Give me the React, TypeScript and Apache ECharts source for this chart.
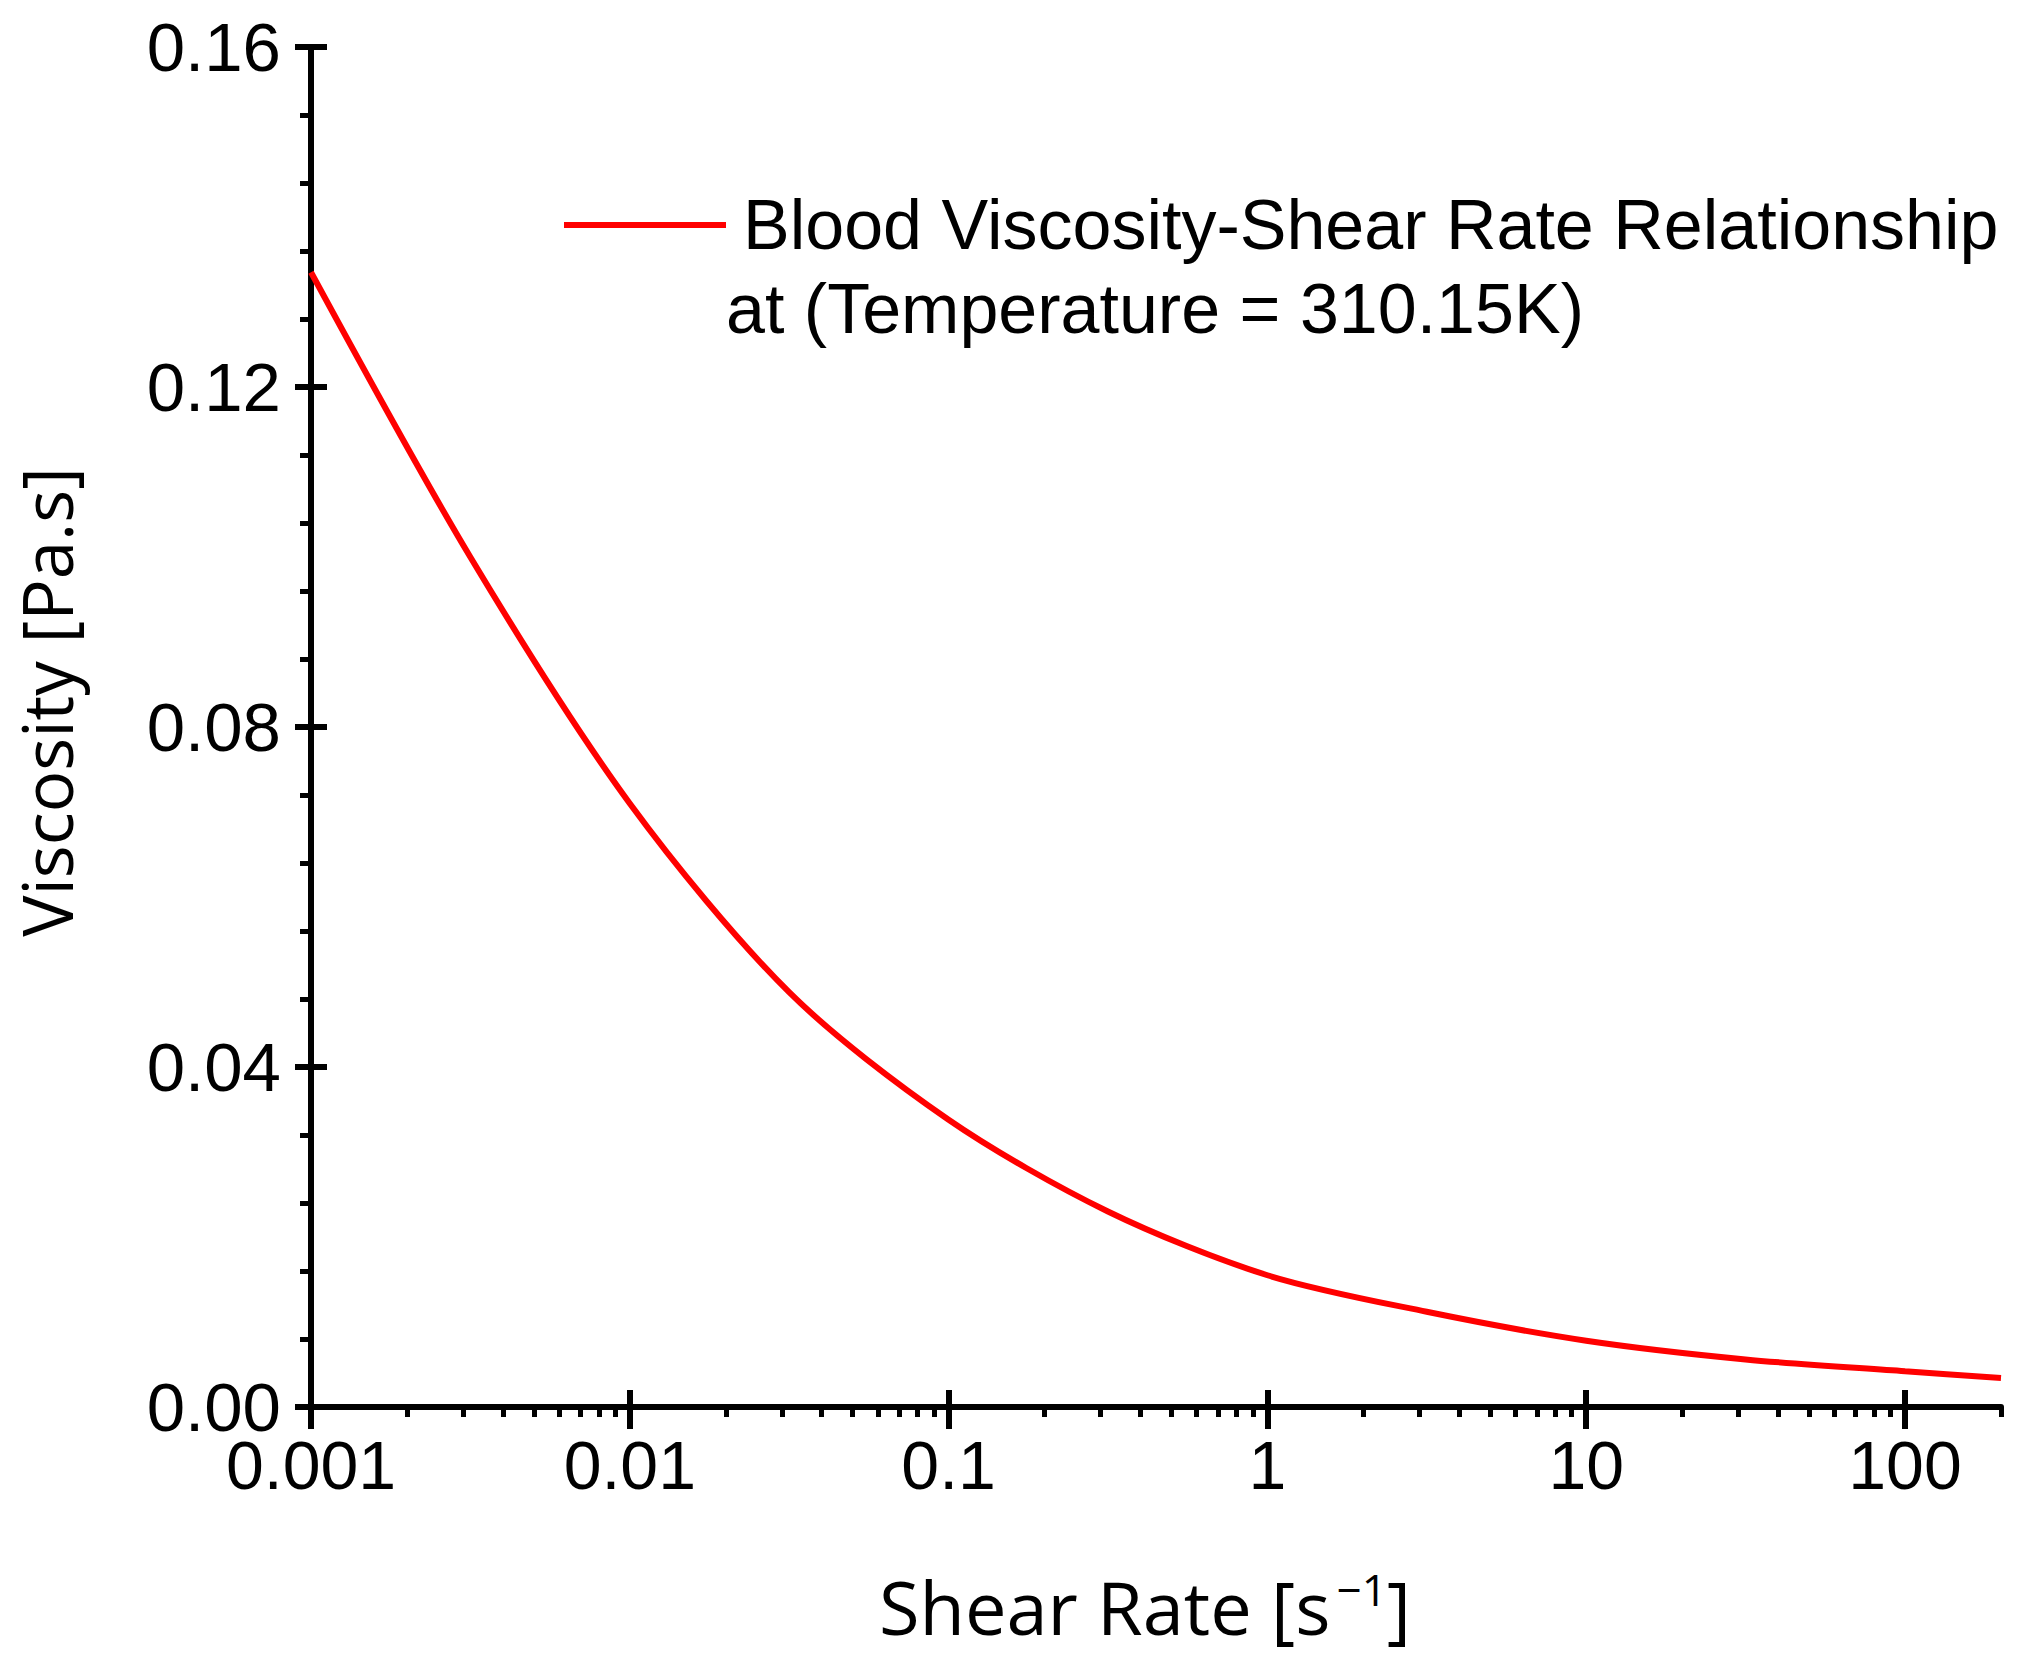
import { useEffect, useRef } from 'react';
import * as echarts from 'echarts';

// values (half-decade steps)
const shearRate = [
  0.001, 0.00316, 0.01, 0.0316, 0.1, 0.316, 1, 3.16, 10, 31.6, 100, 200,
];
const viscosity = [
  0.1335, 0.1, 0.071, 0.0488, 0.0338, 0.023, 0.0155, 0.0112, 0.0078, 0.0056,
  0.0042, 0.0034,
];
const xMajorTicks = [0.001, 0.01, 0.1, 1, 10, 100];
const xMinorMantissa = [2, 3, 4, 5, 6, 7, 8, 9];
const xMin = 0.001;
const xMax = 200;
const yTicks = [0, 0.04, 0.08, 0.12, 0.16];

const legendName = 'Blood Viscosity-Shear Rate Relationship';
const legendLine2 = 'at (Temperature = 310.15K)';
const xTitle = 'Shear Rate [s{sup|−1}]';
const yTitle = 'Viscosity [Pa.s]';

const App: React.FC = () => {
  const chartRef = useRef<HTMLDivElement>(null);

  useEffect(() => {
    if (!chartRef.current) return;
    document.body.style.margin = '0';
    const chart = echarts.init(chartRef.current, null, { renderer: 'svg' });

    const xMinorTicks = xMajorTicks
      .flatMap((d) => xMinorMantissa.map((m) => +(m * d).toPrecision(3)))
      .filter((v) => v <= xMax);

    const numFont = 'Liberation Sans, Arial, sans-serif';
    const titleFont = 'Open Sans, sans-serif';
    const black = '#000';
    const lw = 6;

    const yBase = {
      type: 'value' as const,
      min: yTicks[0],
      max: yTicks[yTicks.length - 1],
      interval: yTicks[1] - yTicks[0],
      position: 'left' as const,
      splitLine: { show: false },
    };
    const xBase = {
      type: 'log' as const,
      logBase: 10,
      min: xMin,
      max: xMax,
      position: 'bottom' as const,
      splitLine: { show: false },
    };

    chart.setOption({
      animation: false,
      backgroundColor: '#fff',
      grid: { left: 311, top: 47, right: 32, bottom: 258, containLabel: false },
      legend: {
        left: 564,
        top: 190,
        padding: 0,
        icon: 'rect',
        itemWidth: 162,
        itemHeight: 6,
        data: [legendName],
        textStyle: {
          fontFamily: numFont,
          fontSize: 70,
          color: black,
          padding: [0, 0, 0, 12],
        },
      },
      graphic: [
        {
          type: 'text',
          left: 726,
          top: 274,
          style: {
            text: legendLine2,
            fontFamily: numFont,
            fontSize: 70,
            fill: black,
          },
        },
      ],
      xAxis: [
        {
          ...xBase,
          name: xTitle,
          nameLocation: 'middle',
          nameGap: 160,
          nameTextStyle: {
            fontFamily: titleFont,
            fontSize: 74,
            color: black,
            padding: [0, 22, 0, 0],
            rich: {
              sup: {
                fontFamily: titleFont,
                fontSize: 44,
                color: black,
                verticalAlign: 'top',
                padding: [0, 0, 34, 6],
              },
            },
          },
          axisLine: { show: true, lineStyle: { color: black, width: lw } },
          axisTick: {
            show: true,
            length: 22,
            lineStyle: { color: black, width: lw },
            customValues: xMajorTicks,
          },
          axisLabel: {
            customValues: xMajorTicks,
            margin: 24,
            fontFamily: numFont,
            fontSize: 68,
            color: black,
            formatter: (v: number) => String(v),
          },
        },
        {
          ...xBase,
          axisLine: { show: false },
          axisTick: {
            show: true,
            inside: true,
            length: 17,
            lineStyle: { color: black, width: lw },
            customValues: xMajorTicks,
          },
          axisLabel: { show: false },
        },
        {
          ...xBase,
          axisLine: { show: false },
          axisTick: {
            show: true,
            length: 10,
            lineStyle: { color: black, width: 5 },
            customValues: xMinorTicks,
          },
          axisLabel: { show: false },
        },
      ],
      yAxis: [
        {
          ...yBase,
          name: yTitle,
          nameLocation: 'middle',
          nameGap: 231,
          nameRotate: 90,
          nameTextStyle: {
            fontFamily: titleFont,
            fontSize: 69,
            color: black,
            padding: [0, 0, 0, 50],
          },
          axisLine: { show: true, lineStyle: { color: black, width: lw } },
          axisTick: { show: true, length: 16, lineStyle: { color: black, width: lw } },
          minorTick: {
            show: true,
            splitNumber: 5,
            length: 11,
            lineStyle: { color: black, width: 5 },
          },
          axisLabel: {
            margin: 30,
            fontFamily: numFont,
            fontSize: 69,
            color: black,
            formatter: (v: number) => v.toFixed(2),
          },
        },
        {
          ...yBase,
          axisLine: { show: false },
          axisTick: {
            show: true,
            inside: true,
            length: 16,
            lineStyle: { color: black, width: lw },
          },
          axisLabel: { show: false },
        },
      ],
      series: [
        {
          name: legendName,
          type: 'line',
          xAxisIndex: 0,
          yAxisIndex: 0,
          smooth: 0.3,
          symbol: 'none',
          lineStyle: { color: '#ff0000', width: 6 },
          itemStyle: { color: '#ff0000' },
          data: shearRate.map((x, i) => [x, viscosity[i]]),
        },
      ],
    });

    const handleResize = () => chart.resize();
    window.addEventListener('resize', handleResize);
    return () => {
      window.removeEventListener('resize', handleResize);
      if (!chart.isDisposed()) chart.dispose();
    };
  }, []);

  return <div ref={chartRef} style={{ width: '2033px', height: '1665px' }} />;
};

export default App;
